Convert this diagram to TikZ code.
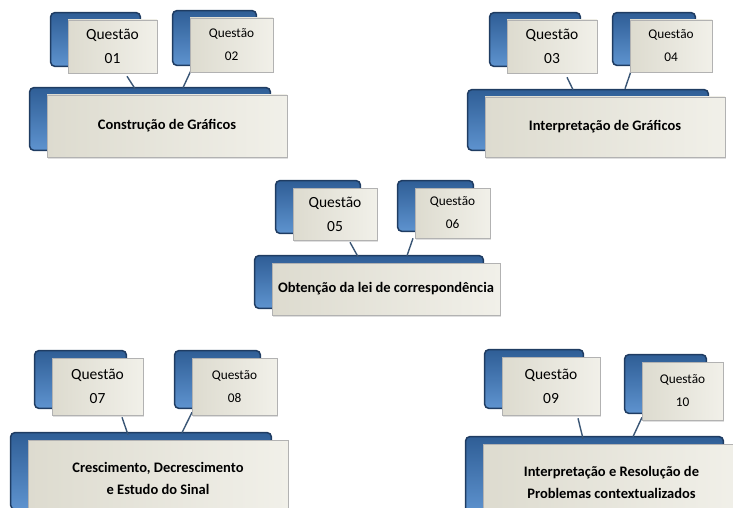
\documentclass[tikz,border=0pt]{standalone}
\usepackage{fontspec}
\setmainfont{Carlito}
\usetikzlibrary{calc,backgrounds,shadows}

\begin{document}
\begin{tikzpicture}[x=1pt,y=-1pt]
  % Key Colors
  \definecolor{platetop}   {HTML}{2F5E96}
  \definecolor{platebottom}{HTML}{5E93CF}
  \definecolor{plateedge}  {HTML}{1F3C62}
  \definecolor{cardleft}   {HTML}{DDDBCF}
  \definecolor{cardright}  {HTML}{F1F0E9}
  \definecolor{linkcolor}  {HTML}{3A5675}

  % Styles
  \tikzstyle{card}=[draw=black!30,line width=0.6pt,left color=cardleft,right color=cardright,
                    align=center,inner sep=2pt,drop shadow={opacity=0.25,shadow xshift=1pt,shadow yshift=-1.5pt}]
  \tikzstyle{big question}=[card,font=\fontsize{15.5}{24}\selectfont]
  \tikzstyle{small question}=[card,font=\fontsize{13.3}{23}\selectfont]
  \tikzstyle{topic}=[card,font=\fontsize{14.5}{22}\selectfont\bfseries]
  \tikzstyle{plate}=[top color=platetop,bottom color=platebottom,draw=plateedge,line width=1.5pt,rounded corners=4pt]
  \tikzstyle{link}=[draw=linkcolor,line width=1.4pt]

  \useasboundingbox (0,0) rectangle (733,508);

  % Top left
  \node[big question,minimum width=89pt,minimum height=53pt]   (q01) at (112.5,46.5) {Questão\\01};
  \node[small question,minimum width=83pt,minimum height=54pt] (q02) at (231.5,45)   {Questão\\02};
  \node[topic,minimum width=240pt,minimum height=62pt]         (m1)  at (167,126)    {Construção de Gráficos};

  % Top right
  \node[big question,minimum width=90pt,minimum height=53pt]   (q03) at (552,46.5)   {Questão\\03};
  \node[small question,minimum width=82pt,minimum height=52pt] (q04) at (671,46)     {Questão\\04};
  \node[topic,minimum width=240pt,minimum height=60pt]         (m2)  at (605,127)    {Interpretação de Gráficos};

  % Middle
  \node[big question,minimum width=84pt,minimum height=52pt]   (q05) at (335,214)    {Questão\\05};
  \node[small question,minimum width=75pt,minimum height=50pt] (q06) at (452.5,213)  {Questão\\06};
  \node[topic,minimum width=228pt,minimum height=52pt,inner sep=0pt] (m3) at (386,289) {Obtenção da lei de correspondência};

  % Bottom left
  \node[big question,minimum width=91pt,minimum height=57pt]   (q07) at (97.5,386.5) {Questão\\07};
  \node[small question,minimum width=85pt,minimum height=57pt] (q08) at (234.5,386.5){Questão\\08};
  \node[topic,minimum width=260pt,minimum height=76pt]         (m4)  at (158,478)    {Crescimento, Decrescimento\\e Estudo do Sinal};

  % Bottom right
  \node[big question,minimum width=98pt,minimum height=58pt]   (q09) at (551,386)    {Questão\\09};
  \node[small question,minimum width=81pt,minimum height=58pt] (q10) at (682.5,391)  {Questão\\10};
  \node[topic,minimum width=257pt,minimum height=76pt]         (m5)  at (611.5,482)  {Interpretação e Resolução de\\Problemas contextualizados};

  \begin{scope}[on background layer]
    % Blue plates behind the cards
    \foreach \n in {q01,q02,m1,q03,q04,m2,q05,q06,m3,q07,q08,m4,q09,q10,m5}
      \path[plate] ($(\n.north west)+(-17,-7)$) rectangle ($(\n.south east)+(-17,-7)$);

    % Links
    \draw[link] ($(q01.south)+(14.5,3)$)   -- ($(m1.north)+(-32,-6)$);
    \draw[link] ($(q02.south)+(-39.5,-4)$) -- ($(m1.north)+(16,-7)$);
    \draw[link] ($(q03.south)+(15,4)$)     -- ($(m2.north)+(-32,-7)$);
    \draw[link] ($(q04.south)+(-39,-4)$)   -- ($(m2.north)+(20,-8)$);
    \draw[link] ($(q05.south)+(15,2)$)     -- ($(m3.north)+(-28,-6)$);
    \draw[link] ($(q06.south)+(-39.5,0)$)  -- ($(m3.north)+(21,-7)$);
    \draw[link] ($(q07.south)+(24.5,2)$)   -- ($(m4.north)+(-30,-5)$);
    \draw[link] ($(q08.south)+(-42.5,-3)$) -- ($(m4.north)+(24,-7)$);
    \draw[link] ($(q09.south)+(27,3)$)     -- ($(m5.north)+(-28.5,-5)$);
    \draw[link] ($(q10.south)+(-40.5,-3)$) -- ($(m5.north)+(21.5,-7)$);
  \end{scope}
\end{tikzpicture}
\end{document}
